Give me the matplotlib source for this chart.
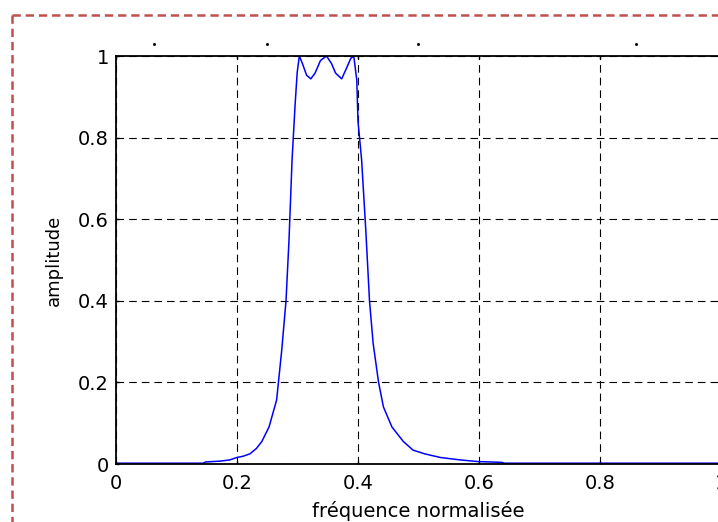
import numpy as np
import matplotlib
matplotlib.use('Agg')
import matplotlib.pyplot as plt
from matplotlib.lines import Line2D

# filter magnitude response
freq = [0.0, 0.144, 0.148, 0.172, 0.188, 0.200, 0.210, 0.2215, 0.232, 0.241,
        0.253, 0.2655, 0.274, 0.281, 0.286, 0.291, 0.296, 0.2995, 0.303, 0.308,
        0.315, 0.322, 0.329, 0.338, 0.348, 0.356, 0.363, 0.373, 0.381, 0.388,
        0.393, 0.398, 0.400, 0.406, 0.413, 0.419, 0.425, 0.434, 0.442, 0.456,
        0.475, 0.491, 0.510, 0.536, 0.569, 0.598, 0.6375, 0.642, 1.0]
amp = [0.002, 0.002, 0.005, 0.007, 0.010, 0.016, 0.019, 0.025, 0.038, 0.055,
       0.091, 0.157, 0.28, 0.40, 0.55, 0.745, 0.88, 0.96, 1.0, 0.982,
       0.953, 0.944, 0.958, 0.989, 1.0, 0.982, 0.958, 0.944, 0.97, 0.994,
       1.0, 0.941, 0.84, 0.745, 0.57, 0.40, 0.296, 0.20, 0.14, 0.091,
       0.055, 0.034, 0.025, 0.016, 0.010, 0.006, 0.004, 0.002, 0.002]

ticks = [0, 0.2, 0.4, 0.6, 0.8, 1]
tick_labels = ['0', '0.2', '0.4', '0.6', '0.8', '1']

plt.rcParams['font.family'] = ['DejaVu Sans']
plt.rcParams['lines.scale_dashes'] = False

W, H = 718, 522
fig = plt.figure(figsize=(W / 100, H / 100), dpi=100)

# axes runs past the right edge of the picture (clipped like the original)
ax = fig.add_axes([116 / W, (H - 464) / H, 605 / W, 408 / H])
ax.plot(freq, amp, color='#0000ff', linewidth=1.1)

ax.set_xlim(0, 1)
ax.set_ylim(0, 1)
ax.set_xticks(ticks)
ax.set_xticklabels(tick_labels)
ax.set_yticks(ticks)
ax.set_yticklabels(tick_labels)
ax.tick_params(axis='both', direction='in', length=2.5, width=1.0,
               labelsize=14, top=True, right=True)
ax.tick_params(axis='x', pad=7)
ax.tick_params(axis='y', pad=5)
ax.grid(True, color='black', linewidth=0.8, linestyle=(0, (5.5, 3.6)))
for sp in ax.spines.values():
    sp.set_linewidth(1.3)

ax.set_xlabel('fréquence normalisée', fontsize=14)
ax.xaxis.set_label_coords(0.5, -0.09)
ax.set_ylabel('amplitude', fontsize=13)
ax.yaxis.set_label_coords(-0.087, 0.5)

# dashed red frame around the figure (right and bottom sides cut off)
red = '#c0504d'
fig.add_artist(Line2D([12 / W, 12 / W], [(H - 15) / H, -0.05],
                      color=red, linewidth=1.8, linestyle=(0, (6, 3.5))))
fig.add_artist(Line2D([12 / W, 1.05], [(H - 15) / H, (H - 15) / H],
                      color=red, linewidth=1.8, linestyle=(0, (6, 3.5))))

# stray specks above the plot
for xp in [154, 267, 418, 636]:
    fig.add_artist(Line2D([xp / W], [(H - 44) / H], marker='s', markersize=1.0,
                          color='black', linestyle='none'))

fig.savefig('out.png', dpi=100)
